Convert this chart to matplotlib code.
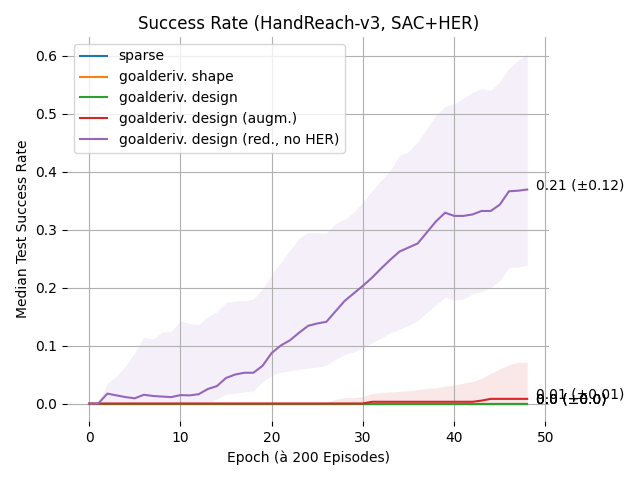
import matplotlib
matplotlib.use('Agg')
import matplotlib.pyplot as plt
import numpy as np

epochs = np.arange(49)

labels = ['sparse', 'goalderiv. shape', 'goalderiv. design',
          'goalderiv. design (augm.)', 'goalderiv. design (red., no HER)']

zeros = [0.0] * 49

# median success rate per epoch
sparse_med = zeros
shape_med = zeros
design_med = zeros
augm_med = [0.0] * 31 + [0.003] * 12 + [0.005] + [0.008] * 5
red_med = [0.0, 0.0, 0.017, 0.014, 0.011, 0.009, 0.015, 0.013, 0.012, 0.011,
           0.0145, 0.014, 0.016, 0.025, 0.030, 0.044, 0.050, 0.053, 0.053, 0.065,
           0.087, 0.100, 0.109, 0.122, 0.134, 0.138, 0.141, 0.159, 0.177, 0.190,
           0.203, 0.217, 0.233, 0.248, 0.262, 0.269, 0.276, 0.295, 0.314, 0.329,
           0.3235, 0.3235, 0.326, 0.332, 0.332, 0.343, 0.366, 0.367, 0.369]

# spread (lower / upper)
augm_lo = zeros
augm_hi = [0.0] * 26 + [0.002, 0.007, 0.010, 0.010, 0.012, 0.017, 0.019, 0.020,
                        0.021, 0.022, 0.024, 0.026, 0.027, 0.030, 0.032, 0.035,
                        0.038, 0.043, 0.052, 0.060, 0.067, 0.071, 0.071]
red_lo = [0.0] * 14 + [0.008, 0.016, 0.018, 0.020, 0.022, 0.038, 0.048, 0.054,
                       0.056, 0.059, 0.061, 0.063, 0.066, 0.076, 0.085, 0.089,
                       0.096, 0.105, 0.113, 0.122, 0.128, 0.135, 0.143, 0.157,
                       0.170, 0.183, 0.179, 0.180, 0.189, 0.193, 0.200, 0.212,
                       0.235, 0.235, 0.239]
red_hi = [0.0, 0.0, 0.035, 0.047, 0.065, 0.088, 0.114, 0.111, 0.123, 0.125,
          0.142, 0.138, 0.136, 0.150, 0.158, 0.174, 0.177, 0.177, 0.180, 0.197,
          0.223, 0.243, 0.264, 0.285, 0.295, 0.294, 0.294, 0.310, 0.318, 0.330,
          0.347, 0.367, 0.385, 0.402, 0.428, 0.434, 0.451, 0.474, 0.497, 0.512,
          0.517, 0.526, 0.537, 0.543, 0.540, 0.555, 0.578, 0.592, 0.602]

end_texts = ['0.0 (±0.0)', '0.0 (±0.0)', '0.0 (±0.0)', '0.01 (±0.01)', '0.21 (±0.12)']

meds = [sparse_med, shape_med, design_med, augm_med, red_med]
los = [zeros, zeros, zeros, augm_lo, red_lo]
his = [zeros, zeros, zeros, augm_hi, red_hi]

fig, ax = plt.subplots(figsize=(6.4, 4.8), dpi=100)

for i in range(len(labels)):
    c = 'C%d' % i
    ax.plot(epochs, meds[i], color=c, label=labels[i])
    ax.fill_between(epochs, los[i], his[i], color=c, alpha=0.1, linewidth=0)
    ax.text(epochs[-1] + 1, meds[i][-1], end_texts[i])

ax.set_title('Success Rate (HandReach-v3, SAC+HER)')
ax.set_xlabel('Epoch (à 200 Episodes)')
ax.set_ylabel('Median Test Success Rate')
ax.grid(True)
for s in ax.spines.values():
    s.set_visible(False)
ax.legend(loc='upper left')

plt.subplots_adjust(left=0.105, right=0.858, top=0.923, bottom=0.123)
plt.savefig('out.png')
